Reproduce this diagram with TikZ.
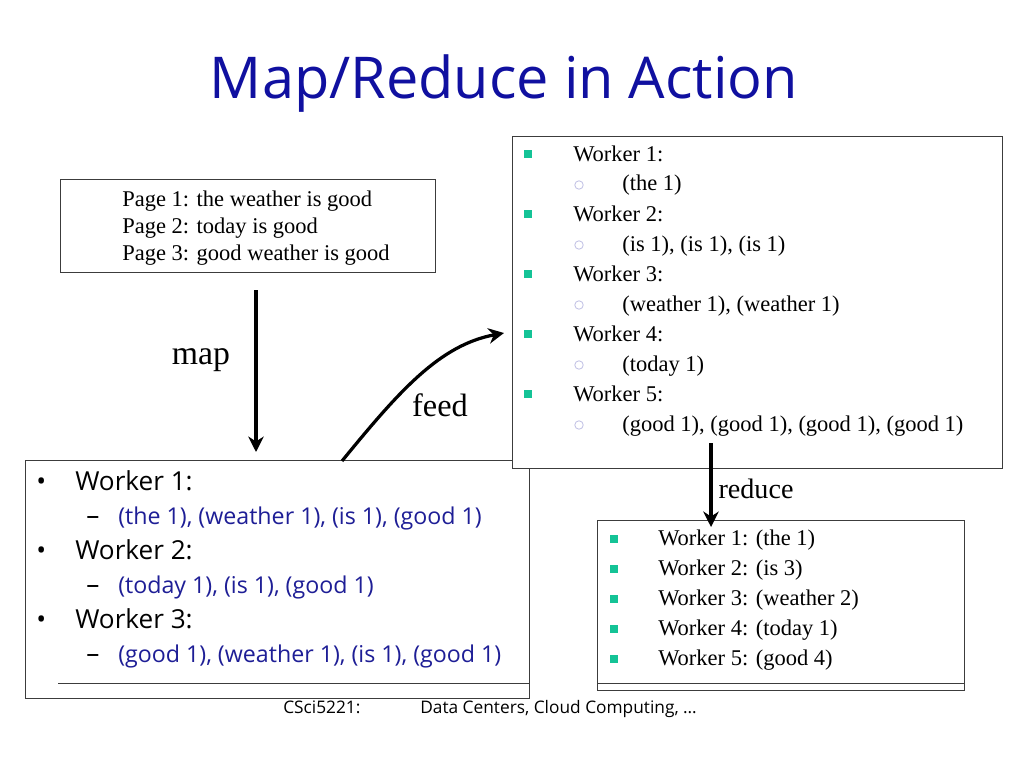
\documentclass[tikz,border=0pt]{standalone}
\usepackage{fontspec}
\setmainfont{Liberation Serif}
\newfontfamily\comicfont{Open Sans}
\usetikzlibrary{arrows.meta}

\definecolor{titleblue}{RGB}{16,16,160}
\definecolor{pairblue}{RGB}{30,30,150}
\definecolor{bulletgreen}{RGB}{20,195,150}
\definecolor{ringgray}{RGB}{195,195,230}
\definecolor{framegray}{RGB}{60,60,60}

\tikzset{
  frame/.style={draw=framegray, line width=0.7pt},
  flow/.style={line width=2.3pt, -{Stealth[length=11pt,width=11pt]}},
  serif/.style={font=\fontsize{16}{19}\selectfont, inner sep=0pt, anchor=base west},
  comic/.style={font=\comicfont\fontsize{18.6}{22}\selectfont, inner sep=0pt, anchor=base west},
  pairs/.style={font=\comicfont\fontsize{16.5}{20}\selectfont, inner sep=0pt, anchor=base west, text=pairblue},
  footer/.style={font=\comicfont\fontsize{12.3}{14}\selectfont, inner sep=0pt, anchor=base west},
  sqbullet/.style={fill=bulletgreen, minimum size=5.6pt, inner sep=0pt},
  ringbullet/.style={draw=ringgray, circle, minimum size=6pt, inner sep=0pt, line width=0.6pt}
}

\begin{document}
\begin{tikzpicture}[x=0.025cm, y=-0.025cm]
\useasboundingbox (0,0) rectangle (1024,768);
\fill[white] (0,0) rectangle (1024,768);

\node[font=\comicfont\fontsize{41}{45}\selectfont, text=titleblue] (title) at (504,84) {Map/Reduce in Action};

% input pages
\draw[frame] (60,179) rectangle (435,272);
\node[serif] (page1) at (122,206) {Page 1: the weather is good};
\node[serif] (page2) at (122,233) {Page 2: today is good};
\node[serif] (page3) at (122,260) {Page 3: good weather is good};

% map output
\draw[frame] (25,460) rectangle (529,698);
\draw[frame] (58,683) -- (529,683);
\foreach \w/\p/\yy in {1/{(the 1), (weather 1), (is 1), (good 1)}/490,
                       2/{(today 1), (is 1), (good 1)}/559,
                       3/{(good 1), (weather 1), (is 1), (good 1)}/628} {
  \node[comic] (mdot\w) at (36,\yy) {\textbullet};
  \node[comic] (mw\w) at (75,\yy) {Worker \w:};
  \node[comic] (mdash\w) at (86,\yy+34.5) {\textendash};
  \node[pairs] (mp\w) at (118,\yy+34.5) {\p};
}

% grouped pairs
\filldraw[frame, fill=white] (512,136) rectangle (1002,468);
\foreach \w/\p [count=\i from 0] in {1/{(the 1)}, 2/{(is 1), (is 1), (is 1)},
    3/{(weather 1), (weather 1)}, 4/{(today 1)},
    5/{(good 1), (good 1), (good 1), (good 1)}} {
  \node[sqbullet] (gsq\w) at (528,154+60*\i) {};
  \node[serif] (gw\w) at (573,161+60*\i) {Worker \w:};
  \node[ringbullet] (gr\w) at (579,185+60*\i) {};
  \node[serif] (gp\w) at (622,191+60*\i) {\p};
}

% reduce output
\draw[frame] (597,520) rectangle (964,690);
\draw[frame] (597,683) -- (964,683);
\foreach \r [count=\i from 0] in {{Worker 1: (the 1)}, {Worker 2: (is 3)},
    {Worker 3: (weather 2)}, {Worker 4: (today 1)}, {Worker 5: (good 4)}} {
  \node[sqbullet] (rsq\i) at (614,539+30*\i) {};
  \node[serif] (rw\i) at (658,545+30*\i) {\r};
}

% footer
\node[footer] (course) at (283,713) {CSci5221:};
\node[footer] (topic) at (420,713) {Data Centers, Cloud Computing, …};

% arrows
\coordinate (mapfrom) at (256,290);
\coordinate (mapto) at (256,452);
\draw[flow] (mapfrom) -- (mapto);
\node[font=\fontsize{24}{28}\selectfont] (maplabel) at (201,360) {map};

\coordinate (feedfrom) at (342,461);
\coordinate (feedto) at (504,333);
\draw[flow] (feedfrom) .. controls (400,390) and (440,345) .. (feedto);
\node[font=\fontsize{23}{27}\selectfont] (feedlabel) at (440,405) {feed};

\coordinate (reducefrom) at (711,443);
\coordinate (reduceto) at (711,527);
\draw[flow] (reducefrom) -- (reduceto);
\node[font=\fontsize{20}{24}\selectfont] (reducelabel) at (756,489) {reduce};

\end{tikzpicture}
\end{document}
